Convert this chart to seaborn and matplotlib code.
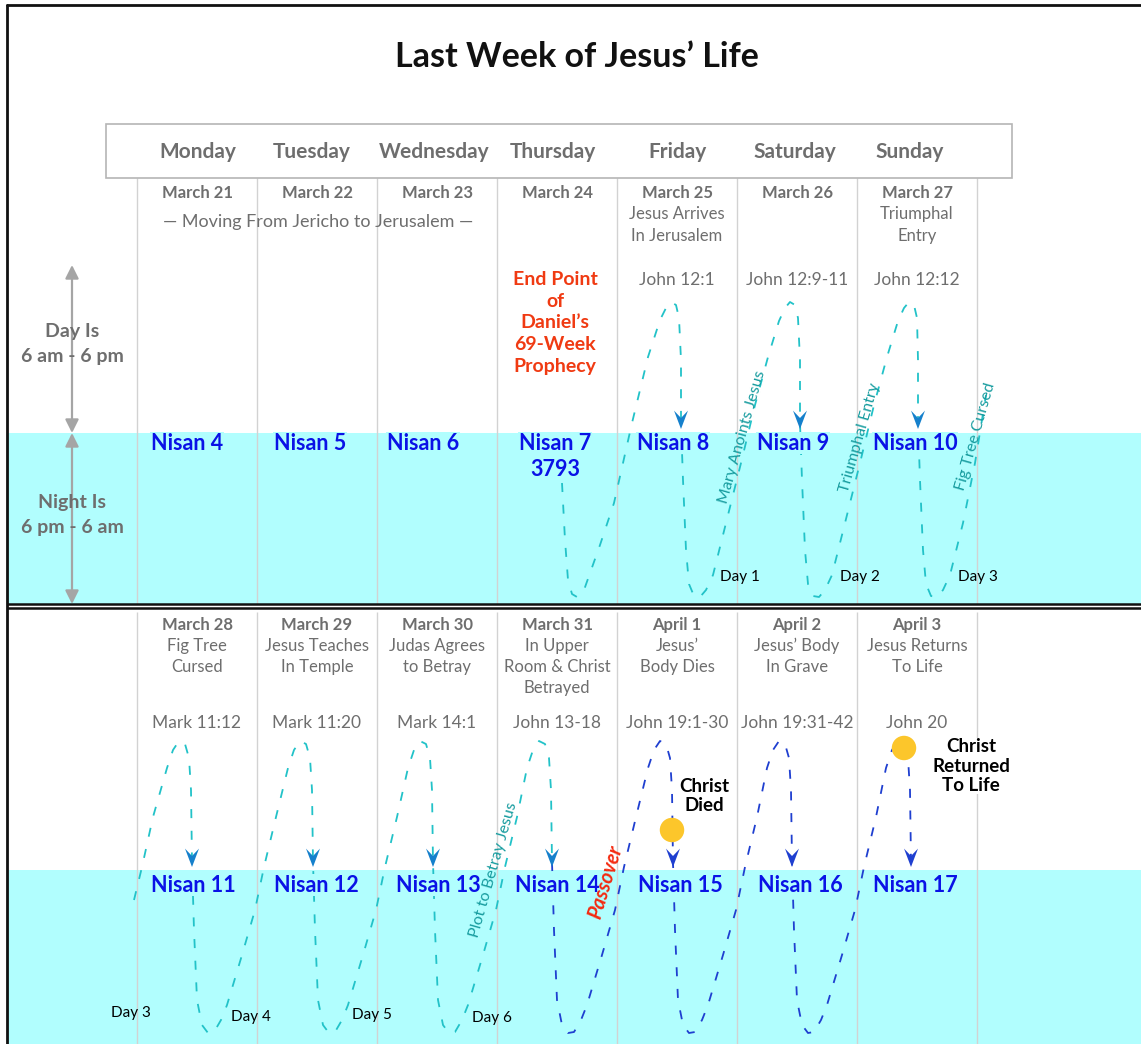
import matplotlib.pyplot as plt
import seaborn as sns
from matplotlib.path import Path
from matplotlib.patches import Rectangle

# --- textes du tableau ---
days = ['Monday', 'Tuesday', 'Wednesday', 'Thursday', 'Friday', 'Saturday', 'Sunday']

dates_top = ['March 21', 'March 22', 'March 23', 'March 24', 'March 25', 'March 26', 'March 27']
notes_top = ['', '', '', '', 'Jesus Arrives\nIn Jerusalem', '', 'Triumphal\nEntry']
refs_top = ['', '', '', '', 'John 12:1', 'John 12:9-11', 'John 12:12']
nisan_top = ['Nisan 4', 'Nisan 5', 'Nisan 6', 'Nisan 7', 'Nisan 8', 'Nisan 9', 'Nisan 10']
year_label = '3793'

dates_bot = ['March 28', 'March 29', 'March 30', 'March 31', 'April 1', 'April 2', 'April 3']
notes_bot = ['Fig Tree\nCursed', 'Jesus Teaches\nIn Temple', 'Judas Agrees\nto Betray',
             'In Upper\nRoom & Christ\nBetrayed', 'Jesus\u2019\nBody Dies',
             'Jesus\u2019 Body\nIn Grave', 'Jesus Returns\nTo Life']
refs_bot = ['Mark 11:12', 'Mark 11:20', 'Mark 14:1', 'John 13-18', 'John 19:1-30',
            'John 19:31-42', 'John 20']
nisan_bot = ['Nisan 11', 'Nisan 12', 'Nisan 13', 'Nisan 14', 'Nisan 15', 'Nisan 16', 'Nisan 17']

day_marks_top = ['Day 1', 'Day 2', 'Day 3']
day_marks_bot = ['Day 3', 'Day 4', 'Day 5', 'Day 6']
events_top = ['Mary Anoints Jesus', 'Triumphal Entry', 'Fig Tree Cursed']
event_bot = 'Plot to Betray Jesus'
prophecy = 'End Point\nof\nDaniel\u2019s\n69-Week\nProphecy'

# --- courbes jour/nuit (en pixels) ---
wave_top_x = [562, 565, 568, 572, 577, 584, 600, 614, 632, 648, 660, 666, 671, 676, 679, 681,
              681, 683, 686, 689, 694, 700, 706, 713, 726, 741, 755, 768, 779, 785, 790, 795,
              798, 800, 800, 802, 805, 808, 813, 819, 825, 832, 845, 860, 874, 887, 898, 904,
              909, 914, 917, 918, 918, 920, 923, 926, 931, 937, 943, 950, 963, 975, 986]
wave_top_y = [483, 540, 580, 594, 597, 590, 545, 503, 423, 357, 320, 308, 302, 305, 318, 360,
              423, 480, 550, 584, 596, 597, 590, 575, 523, 463, 405, 357, 321, 308, 302, 305,
              318, 360, 423, 480, 550, 584, 596, 597, 590, 575, 523, 463, 405, 357, 321, 308,
              302, 305, 318, 360, 423, 480, 550, 584, 596, 597, 590, 575, 523, 463, 395]

wave_bot1_x = [134, 142, 153, 167, 173, 179, 185, 189, 191, 192,
               194, 197, 202, 208, 214, 221, 227, 242, 255, 264, 276, 288, 294, 300, 306, 310, 312, 313,
               315, 318, 323, 329, 335, 342, 348, 363, 376, 385, 397, 408, 414, 420, 426, 430, 432, 433,
               435, 438, 443, 449, 455, 462, 468, 483, 496, 505, 517, 527, 533, 539, 545, 549, 551, 552]
wave_bot1_y = [900, 867, 817, 768, 750, 741, 744, 758, 790, 862,
               930, 1000, 1025, 1033, 1032, 1020, 1005, 955, 910, 867, 817, 768, 750, 741, 744, 758, 790, 862,
               930, 1000, 1025, 1033, 1032, 1020, 1005, 955, 910, 867, 817, 768, 750, 741, 744, 758, 790, 862,
               930, 1000, 1025, 1033, 1032, 1020, 1005, 955, 910, 867, 817, 768, 750, 741, 744, 758, 790, 862]

wave_bot2_x = [552, 554, 557, 562, 568, 574, 581, 587, 602, 615, 624, 636, 648, 654, 660, 666, 670, 672, 673,
               675, 678, 683, 689, 695, 702, 708, 723, 736, 745, 757, 767, 773, 779, 785, 789, 791, 792,
               794, 797, 802, 808, 814, 821, 827, 842, 855, 864, 876, 886, 892, 898, 904, 908, 910, 911]
wave_bot2_y = [862, 930, 1000, 1025, 1033, 1032, 1020, 1005, 955, 910, 867, 817, 768, 750, 741, 744, 758, 790, 862,
               930, 1000, 1025, 1033, 1032, 1020, 1005, 955, 910, 867, 817, 768, 750, 741, 744, 758, 790, 862,
               930, 1000, 1025, 1033, 1032, 1020, 1005, 955, 910, 867, 817, 768, 750, 741, 744, 758, 790, 862]

arrows_top_x = [681, 800, 918]
arrows_bot_x = [192, 313, 433, 552, 673, 792, 911]
event_dots_x = [672, 904]
event_dots_y = [830, 748]
event_dot_labels = ['Christ\nDied', 'Christ\nReturned\nTo Life']

# --- mise en page ---
W, H = 1141, 1044
col_edges = [137 + 120 * i for i in range(8)]
col_mid = [197 + 120 * i for i in range(7)]
day_name_pos = [198, 312, 434, 553, 677, 795, 910]
nisan_top_pos = [187, 310, 423, 555, 673, 793, 915]
nisan_bot_pos = [193, 316, 438, 557, 680, 800, 915]

cyan_bg = '#b1fefe'
grey = '#6e6e6e'
teal = '#22c2c8'
blue = '#1f3fd0'
nisan_blue = '#0a12e6'

sns.set_theme(style='white')
plt.rcParams['font.family'] = ['Lato', 'DejaVu Sans']

fig = plt.figure(figsize=(W / 100, H / 100), dpi=100)
ax = fig.add_axes([0, 0, 1, 1])

# fonds
ax.axhspan(433, 604, xmin=7 / W, xmax=1, color=cyan_bg, lw=0, zorder=0)
ax.axhspan(870, H, xmin=7 / W, xmax=1, color=cyan_bg, lw=0, zorder=0)
ax.vlines(col_edges, 178, 604, color='#d2d2d2', lw=1, zorder=1)
ax.vlines(col_edges, 612, H, color='#d2d2d2', lw=1, zorder=1)
ax.hlines([604, 608], 7, W, color='#111111', lw=1.8, zorder=6)
ax.plot([7, 7], [5, H], color='#111111', lw=2, zorder=6)
ax.plot([7, W], [5, 5], color='#111111', lw=2, zorder=6)
ax.add_patch(Rectangle((106, 124), 906, 54, fill=False, edgecolor='#b5b5b5', lw=1.2, zorder=2))

ax.text(577, 57, 'Last Week of Jesus\u2019 Life', ha='center', va='center',
        fontsize=24.5, fontweight='bold', color='#111111')

for i, d in enumerate(days):
    ax.text(day_name_pos[i], 152, d, ha='center', va='center', fontsize=15,
            fontweight='bold', color=grey)

# textes des colonnes
for i in range(7):
    ax.text(col_mid[i], 193, dates_top[i], ha='center', va='center', fontsize=12,
            fontweight='bold', color=grey)
    for k, line in enumerate(notes_top[i].split('\n')):
        if line:
            ax.text(col_mid[i], 214 + 22 * k, line, ha='center', va='center',
                    fontsize=12, color=grey)
    if refs_top[i]:
        ax.text(col_mid[i], 280, refs_top[i], ha='center', va='center', fontsize=12.5, color=grey)
    ax.text(nisan_top_pos[i], 443, nisan_top[i], ha='center', va='center', fontsize=15.5,
            fontweight='bold', color=nisan_blue, zorder=5,
            bbox=dict(facecolor=cyan_bg, edgecolor='none', pad=0.5))

    ax.text(col_mid[i], 625, dates_bot[i], ha='center', va='center', fontsize=12,
            fontweight='bold', color=grey)
    for k, line in enumerate(notes_bot[i].split('\n')):
        ax.text(col_mid[i], 646 + 21 * k, line, ha='center', va='center',
                fontsize=12, color=grey)
    ax.text(col_mid[i], 723, refs_bot[i], ha='center', va='center', fontsize=12.5, color=grey,
            zorder=5, bbox=dict(facecolor='white', edgecolor='none', pad=0.3))
    ax.text(nisan_bot_pos[i], 885, nisan_bot[i], ha='center', va='center', fontsize=15.5,
            fontweight='bold', color=nisan_blue, zorder=5,
            bbox=dict(facecolor=cyan_bg, edgecolor='none', pad=0.5))

ax.text(555, 469, year_label, ha='center', va='center', fontsize=15.5, fontweight='bold',
        color=nisan_blue, zorder=5)
ax.text(318, 222, '\u2014 Moving From Jericho to Jerusalem \u2014', ha='center', va='center',
        fontsize=13, color=grey)
ax.text(555, 323, prophecy, ha='center', va='center', fontsize=14, fontweight='bold',
        color='#f03a12', linespacing=1.35)

# repere jour / nuit
for y0, y1 in [(265, 433), (433, 604)]:
    ax.annotate('', xy=(72, y1), xytext=(72, y0),
                arrowprops=dict(arrowstyle='<|-|>', color='#a5a5a5', lw=1.6,
                                mutation_scale=20, shrinkA=0, shrinkB=0))
ax.text(72, 344, 'Day Is\n6 am - 6 pm', ha='center', va='center', fontsize=14,
        fontweight='bold', color=grey, linespacing=1.55)
ax.text(72, 515, 'Night Is\n6 pm - 6 am', ha='center', va='center', fontsize=14,
        fontweight='bold', color=grey, linespacing=1.55)

# courbes pointillees
dash = (0, (5, 7))
sns.lineplot(x=wave_top_x, y=wave_top_y, sort=False, estimator=None, color=teal,
             lw=1.3, linestyle=dash, ax=ax, zorder=3)
sns.lineplot(x=wave_bot1_x, y=wave_bot1_y, sort=False, estimator=None, color=teal,
             lw=1.3, linestyle=dash, ax=ax, zorder=3)
sns.lineplot(x=wave_bot2_x, y=wave_bot2_y, sort=False, estimator=None, color=blue,
             lw=1.3, linestyle=dash, ax=ax, zorder=3)

# pointes de fleche
head = Path([(0, 0), (-0.38, 1), (0, 0.6), (0.38, 1), (0, 0)],
            [Path.MOVETO, Path.LINETO, Path.LINETO, Path.LINETO, Path.CLOSEPOLY])
sns.scatterplot(x=arrows_top_x, y=[429] * len(arrows_top_x), marker=head, s=700,
                color='#1580cc', edgecolor='none', ax=ax, zorder=4)
sns.scatterplot(x=arrows_bot_x[:4], y=[867] * 4, marker=head, s=700,
                color='#1580cc', edgecolor='none', ax=ax, zorder=4)
sns.scatterplot(x=arrows_bot_x[4:], y=[867] * 3, marker=head, s=700,
                color=blue, edgecolor='none', ax=ax, zorder=4)

# mort et resurrection
sns.scatterplot(x=event_dots_x, y=event_dots_y, s=310, color='#fcc62b',
                edgecolor='none', ax=ax, zorder=6)
ax.text(704, 796, event_dot_labels[0], ha='center', va='center', fontsize=13.5,
        fontweight='bold', color='black', linespacing=1.15)
ax.text(971, 766, event_dot_labels[1], ha='center', va='center', fontsize=13.5,
        fontweight='bold', color='black', linespacing=1.15, zorder=5,
        bbox=dict(facecolor='white', edgecolor='none', pad=0.5))

# etiquettes obliques
for lab, (x, y) in zip(events_top, [(742, 437), (860, 438), (976, 437)]):
    ax.text(x, y, lab, ha='center', va='center', rotation=74, fontsize=11.5,
            color='#179c9f', rotation_mode='anchor', zorder=5)
ax.text(494, 870, event_bot, ha='center', va='center', rotation=74, fontsize=11.5,
        color='#179c9f', rotation_mode='anchor', zorder=5)
ax.text(606, 882, 'Passover', ha='center', va='center', rotation=73, fontsize=14.5,
        fontweight='bold', fontstyle='italic', color='#f42a10', rotation_mode='anchor', zorder=5)

for lab, (x, y) in zip(day_marks_top, [(740, 577), (860, 577), (978, 577)]):
    ax.text(x, y, lab, ha='center', va='center', fontsize=11, color='black', zorder=5)
for lab, (x, y) in zip(day_marks_bot, [(131, 1013), (251, 1017), (372, 1015), (492, 1018)]):
    ax.text(x, y, lab, ha='center', va='center', fontsize=11, color='black', zorder=5)

ax.set_xlim(0, W)
ax.set_ylim(H, 0)
ax.axis('off')
fig.savefig('out.png', dpi=100)
